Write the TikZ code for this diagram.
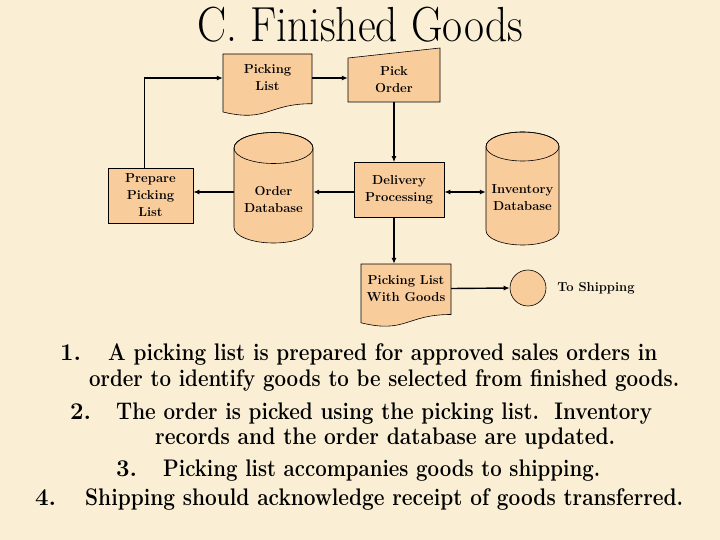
\documentclass[tikz,border=0pt]{standalone}
\usepackage{graphicx}
\usetikzlibrary{arrows.meta}
\definecolor{paper}{RGB}{250,239,213}
\definecolor{shapefill}{RGB}{249,204,156}
\newcommand\fitline[2]{\resizebox{#1}{\height}{#2}}
\begin{document}
\begin{tikzpicture}[x=1pt,y=-1pt,
  box/.style={draw=black,line width=0.6pt,fill=shapefill},
  lbl/.style={font=\fontsize{13}{17}\selectfont\bfseries,align=center,inner sep=0pt},
  conn/.style={line width=1.4pt,-{Latex[length=6pt,width=5pt]}},
  biconn/.style={line width=1.4pt,{Latex[length=6pt,width=5pt]}-{Latex[length=6pt,width=5pt]}},
  body/.style={font=\fontsize{24}{28}\selectfont\bfseries,anchor=base west,inner sep=0pt}]
\useasboundingbox (0,0) rectangle (720,540);
\fill[paper] (0,0) rectangle (720,540);

% title
\node[anchor=base,inner sep=0pt] (title) at (360,42) {\resizebox{326pt}{1.12\height}{\fontsize{44}{50}\selectfont C. Finished Goods}};

% Picking List (document)
\path[box] (223,54) -- (312,54) -- (312,103.7) .. controls (267.5,103.7) and (267.5,122.7) .. (223,112) -- cycle;
\node[lbl,minimum width=89pt,minimum height=48pt] (pl) at (267.5,78) {Picking\\List};

% Pick Order (manual input)
\path[box] (348,58) -- (440,48) -- (440,102) -- (348,102) -- cycle;
\node[lbl,minimum width=92pt,minimum height=44pt] (po) at (394,80) {Pick\\Order};

% Prepare Picking List
\node[box,lbl,minimum width=85pt,minimum height=55pt] (prep) at (150.5,195.5) {Prepare\\Picking\\List};

% Order Database (cylinder)
\path[box] (234,148) -- (234,227.5) arc[start angle=180,end angle=0,x radius=39.5,y radius=15.5]
  -- (313,148) arc[start angle=0,end angle=-180,x radius=39.5,y radius=15.5] -- cycle;
\draw[line width=0.6pt] (273.5,148) ellipse[x radius=39.5,y radius=15.5];
\node[lbl,minimum width=79pt] (od) at (273.5,199.5) {Order\\Database};

% Delivery Processing
\node[box,lbl,minimum width=90pt,minimum height=55pt] (dp) at (399,190) {Delivery\\Processing};

% Inventory Database (cylinder)
\path[box] (486,146.5) -- (486,230.5) arc[start angle=180,end angle=0,x radius=36.5,y radius=14.5]
  -- (559,146.5) arc[start angle=0,end angle=-180,x radius=36.5,y radius=14.5] -- cycle;
\draw[line width=0.6pt] (522.5,146.5) ellipse[x radius=36.5,y radius=14.5];
\node[lbl,minimum width=73pt] (inv) at (522.5,198) {Inventory\\Database};

% Picking List With Goods (document)
\path[box] (361,264) -- (451,264) -- (451,314.5) .. controls (406,314.5) and (406,333.8) .. (361,322.8) -- cycle;
\node[lbl,minimum width=90pt,minimum height=49pt] (plg) at (406,288.5) {Picking List\\With Goods};

% To Shipping connector
\node[box,circle,minimum size=36pt,inner sep=0pt] (ship) at (528,288) {};
\node[lbl] (shiplbl) at (596,288.5) {To Shipping};

% connectors
\draw[conn] ([xshift=-6pt]prep.north) |- (pl.west);
\draw[conn] (pl.east) -- (pl.east -| po.west);
\draw[conn] (po.south) -- (po.south |- dp.north);
\draw[conn] ([yshift=-2pt]dp.west) -- ([yshift=-2pt]dp.west -| od.east);
\draw[conn] ([yshift=-2pt]dp.west -| od.west) -- ([yshift=-2pt]dp.west -| prep.east);
\draw[biconn] ([yshift=-2pt]dp.east) -- ([yshift=-2pt]dp.east -| inv.west);
\draw[conn] (po.south |- dp.south) -- (po.south |- plg.north);
\draw[conn] (plg.east) -- (ship.west);

% text
\node[body] (n1) at (60,360) {1.};
\node[body] (t1) at (108,360) {\fitline{549pt}{A picking list is prepared for approved sales orders in}};
\node[body] (t1b) at (89,386) {\fitline{590pt}{order to identify goods to be selected from finished goods.}};
\node[body] (n2) at (70,419) {2.};
\node[body] (t2) at (116,419) {\fitline{536pt}{The order is picked using the picking list.\ \ Inventory}};
\node[body] (t2b) at (155,444) {\fitline{460pt}{records and the order database are updated.}};
\node[body] (n3) at (116,476) {3.};
\node[body] (t3) at (163,476) {\fitline{437pt}{Picking list accompanies goods to shipping.}};
\node[body] (n4) at (35,505) {4.};
\node[body] (t4) at (85,505) {\fitline{598pt}{Shipping should acknowledge receipt of goods transferred.}};
\end{tikzpicture}
\end{document}
